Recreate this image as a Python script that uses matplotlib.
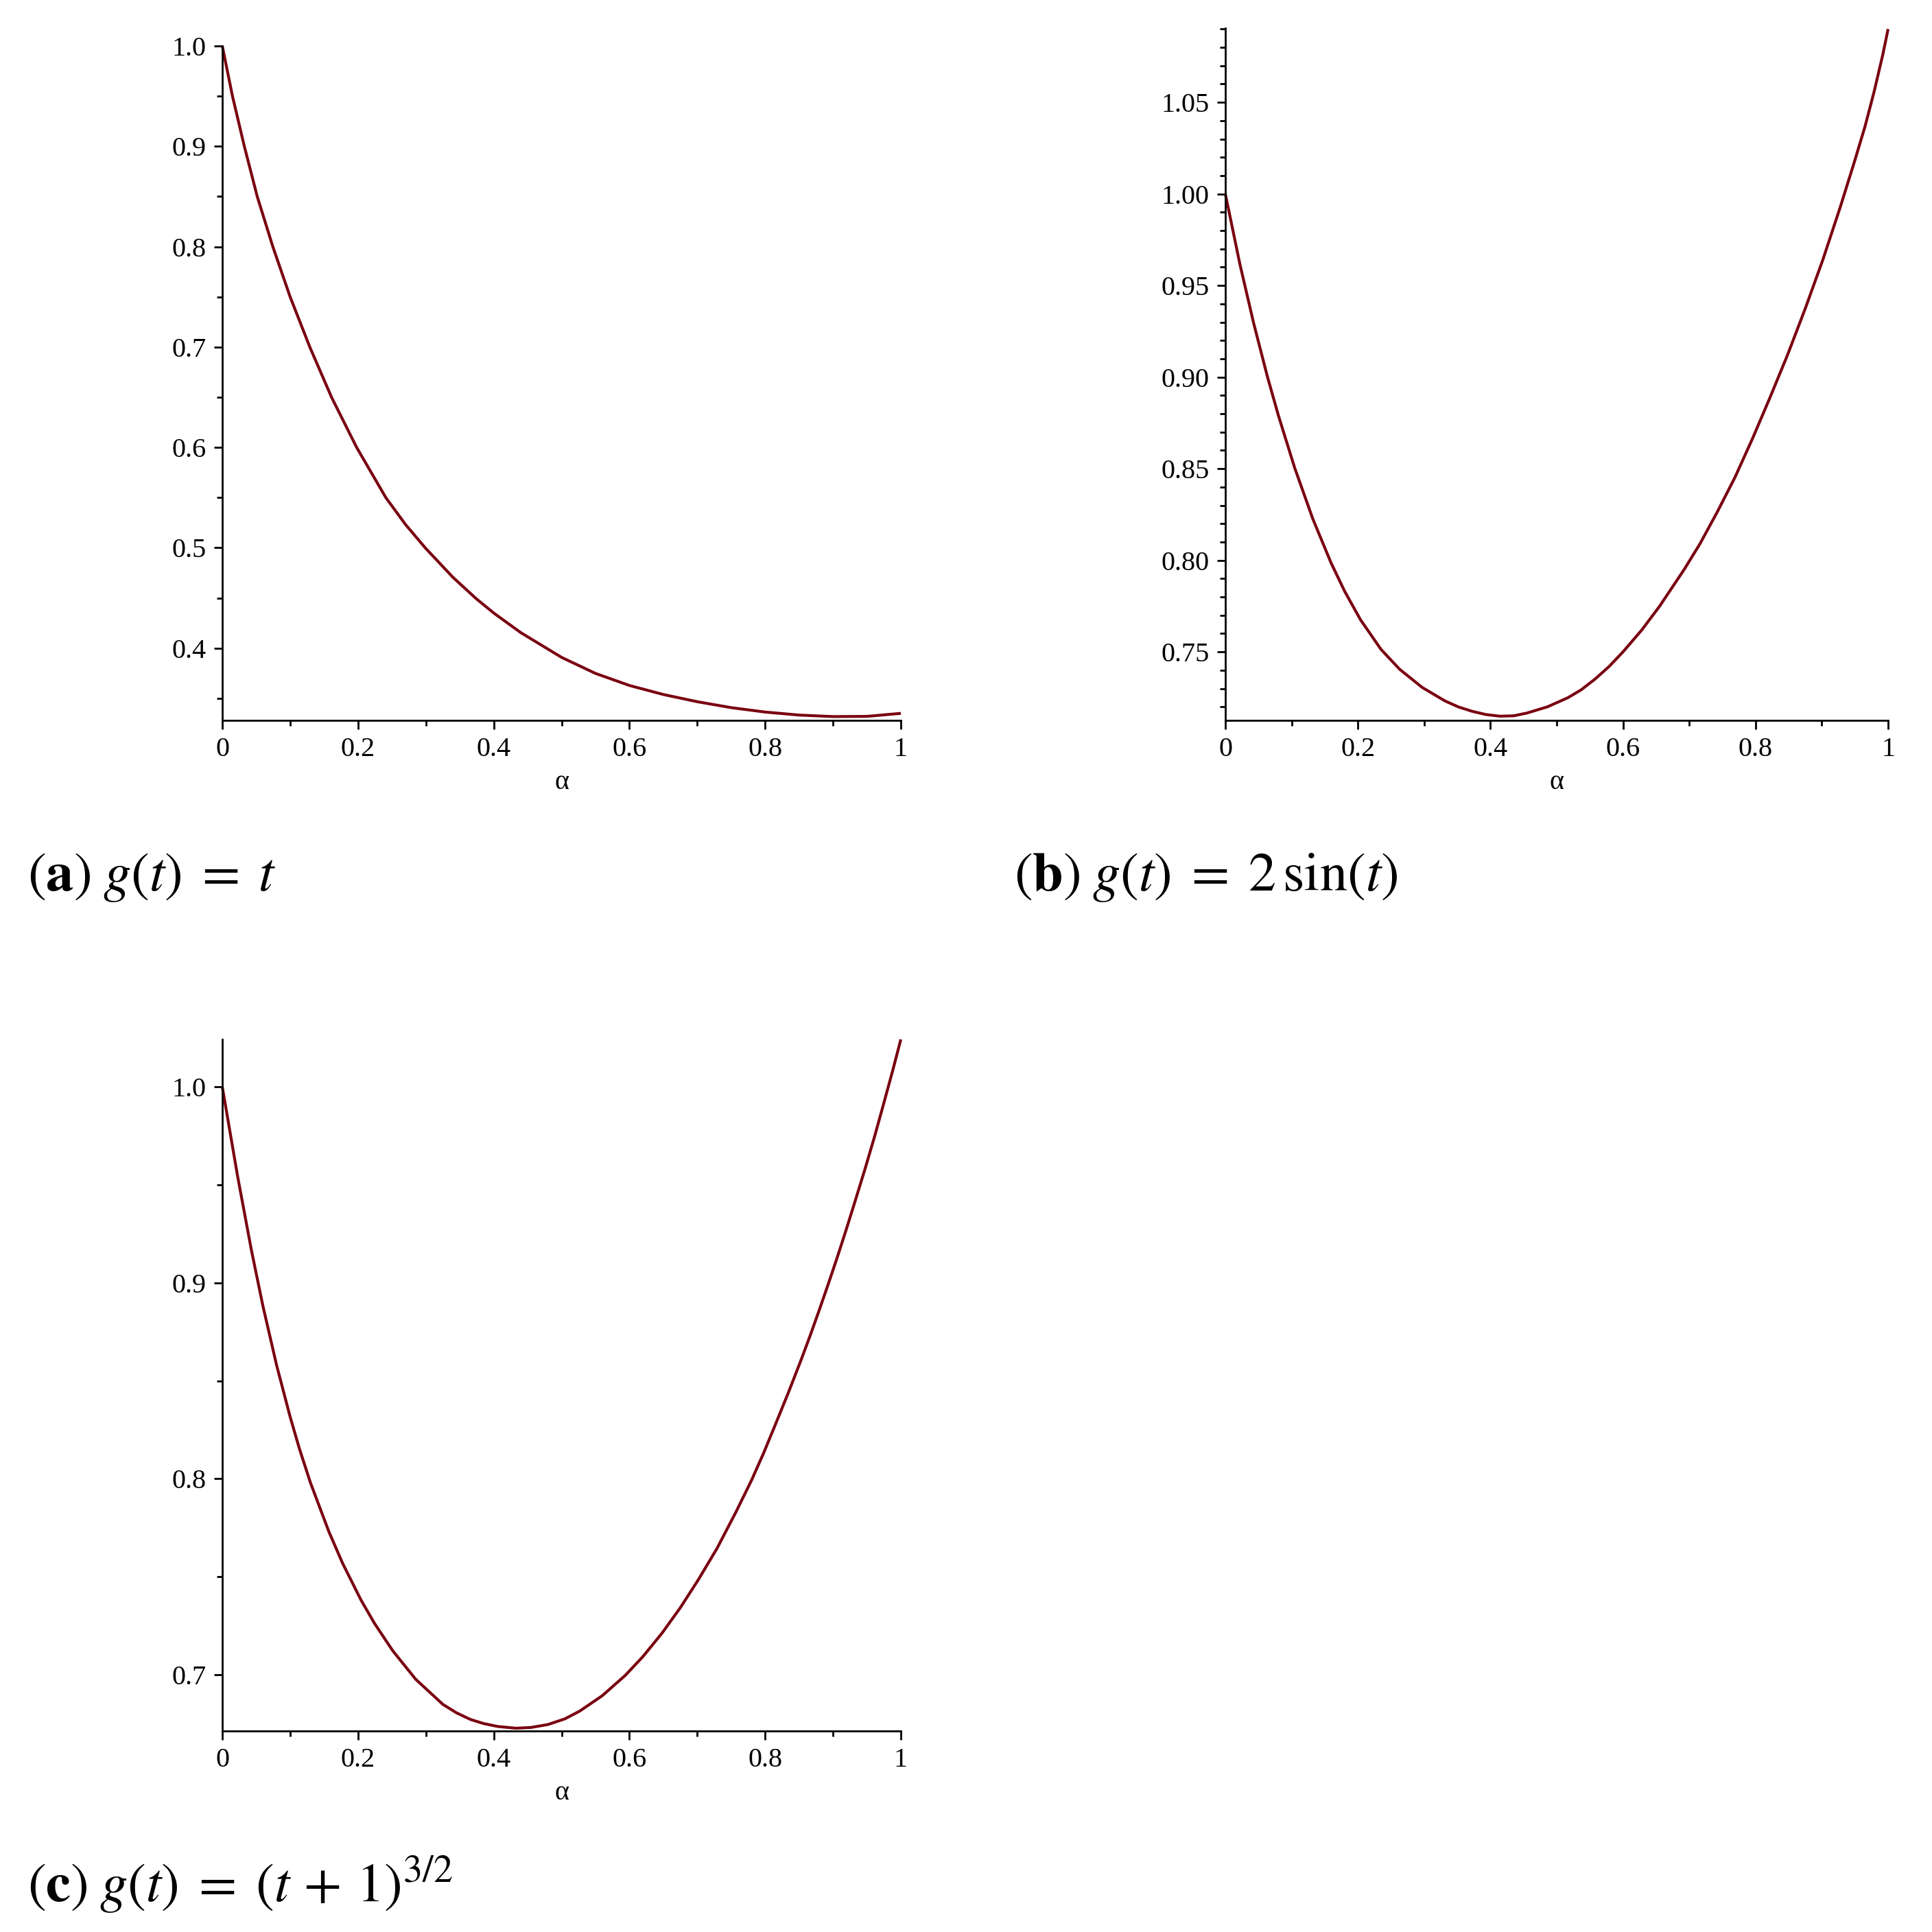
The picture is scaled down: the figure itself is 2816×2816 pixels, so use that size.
import numpy as np
import matplotlib.pyplot as plt
from matplotlib.ticker import MultipleLocator, FormatStrFormatter

plt.rcParams['font.family'] = 'Liberation Serif'
plt.rcParams['mathtext.fontset'] = 'stix'

# points (alpha, value)
alpha_a = [0, 0.015, 0.0325, 0.0515, 0.0745, 0.1, 0.129, 0.161, 0.198, 0.241,
           0.27, 0.299, 0.34, 0.374, 0.4, 0.44, 0.5, 0.55, 0.6, 0.65, 0.7,
           0.75, 0.8, 0.85, 0.9, 0.95, 1.0]
val_a = [1.0, 0.95, 0.90, 0.85, 0.80, 0.75, 0.70, 0.65, 0.60, 0.55,
         0.5232, 0.50, 0.4705, 0.4494, 0.435, 0.4154, 0.3908, 0.3748, 0.3628,
         0.3538, 0.3466, 0.3407, 0.3363, 0.3333, 0.3318, 0.3320, 0.335]

alpha_b = [0, 0.022, 0.0426, 0.0633, 0.080, 0.1045, 0.132, 0.1596, 0.180,
           0.204, 0.235, 0.263, 0.297, 0.3315, 0.352, 0.373, 0.393, 0.414,
           0.435, 0.455, 0.486, 0.517, 0.537, 0.558, 0.579, 0.600, 0.628,
           0.655, 0.692, 0.716, 0.742, 0.769, 0.7955, 0.822, 0.8486, 0.875,
           0.9017, 0.928, 0.9495, 0.9654, 0.9787, 0.992, 1.0]
val_b = [1.0, 0.9616, 0.9296, 0.9005, 0.8791, 0.8506, 0.8226, 0.7985, 0.7831,
         0.7675, 0.7513, 0.7405, 0.7306, 0.7232, 0.7199, 0.7175, 0.7158, 0.7149,
         0.7151, 0.7166, 0.7200, 0.7250, 0.7293, 0.7352, 0.7420, 0.7500, 0.7618,
         0.7748, 0.7948, 0.8089, 0.8262, 0.8453, 0.8665, 0.8890, 0.9124, 0.9374,
         0.9642, 0.9930, 1.0179, 1.0371, 1.0555, 1.0760, 1.0900]

alpha_c = [0, 0.0228, 0.043, 0.0598, 0.080, 0.100, 0.1136, 0.130, 0.157,
           0.1774, 0.2043, 0.2245, 0.2513, 0.285, 0.325, 0.345, 0.3656, 0.385,
           0.406, 0.4328, 0.455, 0.48, 0.505, 0.527, 0.56, 0.594, 0.62, 0.648,
           0.675, 0.7016, 0.729, 0.7571, 0.7798, 0.7979, 0.816, 0.8342, 0.8523,
           0.8659, 0.8796, 0.8932, 0.9068, 0.9204, 0.934, 0.9476, 0.9612,
           0.9748, 0.9884, 1.0]
val_c = [1.0, 0.9539, 0.9165, 0.8883, 0.858, 0.8316, 0.8154, 0.7979, 0.7731,
         0.7568, 0.7382, 0.7261, 0.7122, 0.6977, 0.6849, 0.6806, 0.6772, 0.6751,
         0.6736, 0.6727, 0.6731, 0.6746, 0.6775, 0.6815, 0.6893, 0.6997, 0.7093,
         0.7212, 0.7342, 0.7485, 0.7644, 0.7831, 0.7991, 0.8132, 0.8284, 0.8439,
         0.8600, 0.8726, 0.8859, 0.8995, 0.9135, 0.9281, 0.9432, 0.9585, 0.9745,
         0.9915, 1.0088, 1.0242]

xticks = [0, 0.2, 0.4, 0.6, 0.8, 1]
xticklabels = ['0', '0.2', '0.4', '0.6', '0.8', '1']

captions = [r'$(\mathbf{a})\;g(t)\;=\;t$',
            r'$(\mathbf{b})\;g(t)\;=\;2\,\sin(t)$',
            r'$(\mathbf{c})\;g(t)\;=\;(t\,+\,1)^{3/2}$']

W = 2816
fig = plt.figure(figsize=(28.16, 28.16), dpi=100)


def make_ax(left, right, top, bottom):
    return fig.add_axes([left / W, 1 - bottom / W, (right - left) / W, (bottom - top) / W])


ax_a = make_ax(324, 1313, 67, 1050)
ax_b = make_ax(1786, 2752, 41, 1050)
ax_c = make_ax(324, 1313, 1515, 2523)

setup = [
    (ax_a, alpha_a, val_a, (0.328, 1.0), 0.1, 0.05, '%.1f'),
    (ax_b, alpha_b, val_b, (0.7126, 1.0905), 0.05, 0.01, '%.2f'),
    (ax_c, alpha_c, val_c, (0.6713, 1.0242), 0.1, 0.05, '%.1f'),
]

for ax, xs, vals, ylim, major, minor, fmt in setup:
    ax.plot(xs, vals, color='#7a0010', lw=3.0, solid_joinstyle='round',
            solid_capstyle='butt', clip_on=False)
    ax.set_xlim(0, 1)
    ax.set_ylim(*ylim)
    for s in ['top', 'right']:
        ax.spines[s].set_visible(False)
    for s in ['left', 'bottom']:
        ax.spines[s].set_linewidth(2.0)
    ax.set_xticks(xticks)
    ax.set_xticklabels(xticklabels)
    ax.xaxis.set_minor_locator(MultipleLocator(0.1))
    ax.yaxis.set_major_locator(MultipleLocator(major))
    ax.yaxis.set_minor_locator(MultipleLocator(minor))
    ax.yaxis.set_major_formatter(FormatStrFormatter(fmt))
    ax.tick_params(which='major', length=9, width=2.0, labelsize=29, pad=8)
    ax.tick_params(which='minor', length=6, width=2.0)
    ax.set_xlabel('α', fontsize=29, labelpad=8)

fig.text(40 / W, 1 - 1298 / W, captions[0], fontsize=58, va='baseline', ha='left')
fig.text(1478 / W, 1 - 1298 / W, captions[1], fontsize=58, va='baseline', ha='left')
fig.text(40 / W, 1 - 2773 / W, captions[2], fontsize=58, va='baseline', ha='left')

fig.savefig('out.png', dpi=100, facecolor='white')
